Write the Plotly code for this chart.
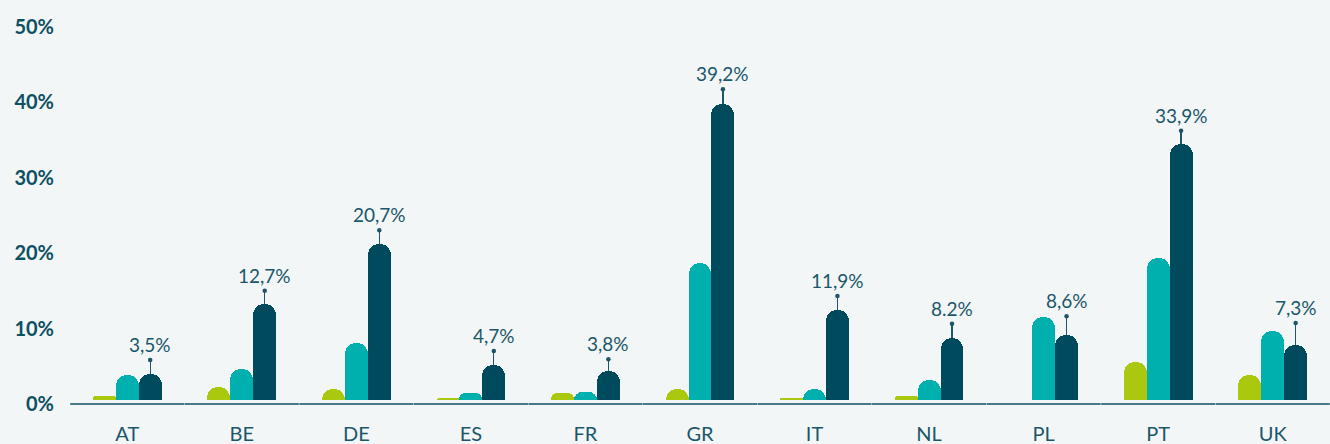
import plotly.graph_objects as go

countries = ["AT", "BE", "DE", "ES", "FR", "GR", "IT", "NL", "PL", "PT", "UK"]
series_a = [0.5, 1.7, 1.5, 0.3, 0.9, 1.5, 0.2, 0.5, 0.0, 5.1, 3.3]
series_b = [3.3, 4.1, 7.6, 0.9, 1.1, 18.2, 1.5, 2.6, 11.0, 18.8, 9.2]
series_c = [3.5, 12.7, 20.7, 4.7, 3.8, 39.2, 11.9, 8.2, 8.6, 33.9, 7.3]
errors_c = [1.8, 1.8, 1.8, 1.8, 1.6, 2.0, 1.9, 1.9, 2.5, 1.8, 2.9]
labels_c = ["3,5%", "12,7%", "20,7%", "4,7%", "3,8%", "39,2%", "11,9%", "8.2%", "8,6%", "33,9%", "7,3%"]
y_ticks = [0, 10, 20, 30, 40, 50]
y_tick_labels = ["0%", "10%", "20%", "30%", "40%", "50%"]

GREEN = "#A9C80E"
TEAL = "#00B0AE"
DARK = "#004A5D"
TEXT = "#1B566A"
AXIS = "#0F4F62"
BG = "#F2F6F7"

idx = list(range(len(countries)))
W = 0.2

fig = go.Figure()
for vals, color, off in [(series_a, GREEN, -0.3), (series_b, TEAL, -0.1), (series_c, DARK, 0.1)]:
    kw = {}
    if vals is series_c:
        kw["error_y"] = dict(type="data", array=errors_c, arrayminus=[0] * len(errors_c),
                             symmetric=False, color="#1F5568", thickness=1.3, width=0)
    fig.add_trace(go.Bar(
        x=idx, y=vals, width=W, offset=off,
        marker=dict(color=color, cornerradius="50%", line=dict(width=0)),
        hoverinfo="skip", showlegend=False, **kw))

tops = [v + e for v, e in zip(series_c, errors_c)]
fig.add_trace(go.Scatter(
    x=[i + 0.2 for i in idx], y=tops, mode="markers",
    marker=dict(size=4.5, color="#1F5568"), hoverinfo="skip", showlegend=False))

for i, t, lab in zip(idx, tops, labels_c):
    fig.add_annotation(x=i + 0.2, y=t, text=lab, showarrow=False, yanchor="bottom",
                       yshift=2, font=dict(family="Lato", size=19, color=TEXT))

for i in idx:
    fig.add_shape(type="line", xref="x", yref="paper", x0=i - 0.5 + 0.002, x1=i + 0.5 - 0.002,
                  y0=0, y1=0, line=dict(color=AXIS, width=1.5))

ymin = -4 / 7.54
ymax = (400 - 15) / 7.54

fig.update_layout(
    width=1330, height=444,
    margin=dict(l=70, r=0, t=15, b=40),
    paper_bgcolor=BG, plot_bgcolor=BG,
    bargap=0,
    xaxis=dict(range=[-0.5, 10.5], tickmode="array", tickvals=idx, ticktext=countries,
               showgrid=False, zeroline=False, showline=False, ticks="", automargin=False,
               ticklabelstandoff=16,
               tickfont=dict(family="Lato", size=20, color=TEXT)),
    yaxis=dict(range=[ymin, ymax], tickmode="array", tickvals=y_ticks, ticktext=y_tick_labels,
               showgrid=False, zeroline=False, showline=False, ticks="", automargin=False,
               ticklabelstandoff=15, ticklabelshift=4,
               tickfont=dict(family="Lato", size=20, color=AXIS, weight="bold")),
)

fig.write_html("out.html", config={"displayModeBar": False},
               post_script="document.body.style.margin='0';document.body.style.background='%s';" % BG)
